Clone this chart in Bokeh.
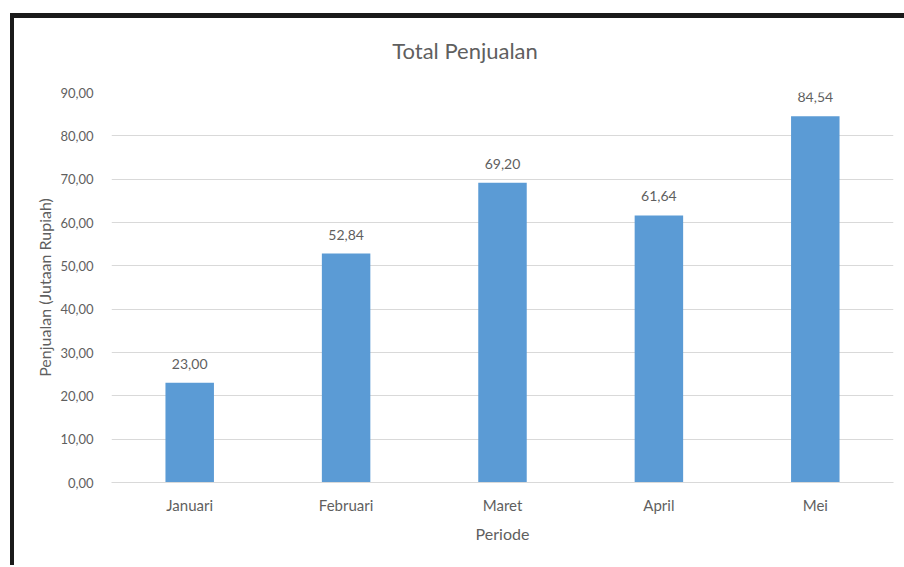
from bokeh.plotting import figure
from bokeh.models import ColumnDataSource, FixedTicker, CustomJSTickFormatter, FactorRange, Range1d, Div
from bokeh.layouts import column
from bokeh.embed import file_html
from bokeh.resources import INLINE
from bokeh.core.properties import value

# ---- data ----
months = ["Januari", "Februari", "Maret", "April", "Mei"]
sales = [23.00, 52.84, 69.20, 61.64, 84.54]
y_ticks = [0, 10, 20, 30, 40, 50, 60, 70, 80, 90]
title_text = "Total Penjualan"
x_title = "Periode"
y_title = "Penjualan (Jutaan Rupiah)"

labels = [f"{v:.2f}".replace(".", ",") for v in sales]
src = ColumnDataSource(dict(month=months, sales=sales, label=labels))

FONT = "Lato"
GREY = "#5f5f5f"
FRAME_H = 390
W = 886

title = Div(
    text=title_text, width=W, height=46,
    styles={
        "font-family": FONT, "font-size": "22px", "color": GREY,
        "text-align": "center", "padding-left": "6px", "padding-top": "15px",
        "line-height": "26px", "box-sizing": "border-box",
        "background-color": "white",
    },
)

p = figure(
    x_range=FactorRange(*months, range_padding=0),
    y_range=Range1d(0, 90),
    width=W, height=18 + FRAME_H + 83,
    output_backend="svg", toolbar_location=None,
    min_border_left=97, min_border_right=7,
    min_border_top=18, min_border_bottom=83,
)
p.outline_line_color = None
p.background_fill_color = "white"
p.border_fill_color = "white"

p.vbar(x="month", top="sales", width=0.31, source=src,
       fill_color="#5b9bd5", line_color=None)
p.text(x="month", y="sales", text="label", source=src,
       text_align="center", text_baseline="bottom", y_offset=-14,
       text_font=value(FONT), text_font_size="14px", text_color=GREY)

# grid
p.xgrid.grid_line_color = None
p.ygrid.grid_line_color = "#d9d9d9"
p.ygrid.grid_line_width = 1

# y axis
p.yaxis.ticker = FixedTicker(ticks=y_ticks)
p.yaxis.formatter = CustomJSTickFormatter(code="return tick.toFixed(2).replace('.', ',');")
p.yaxis.axis_line_color = None
p.yaxis.major_tick_line_color = None
p.yaxis.minor_tick_line_color = None
p.yaxis.major_tick_out = 0
p.yaxis.major_label_standoff = 18
p.yaxis.major_label_text_font = FONT
p.yaxis.major_label_text_font_size = "13px"
p.yaxis.major_label_text_color = GREY
p.yaxis.axis_label = y_title
p.yaxis.axis_label_text_font = FONT
p.yaxis.axis_label_text_font_size = "16px"
p.yaxis.axis_label_text_font_style = "normal"
p.yaxis.axis_label_text_color = GREY
p.yaxis.axis_label_standoff = 3

# x axis
p.xaxis.axis_line_color = "#d9d9d9"
p.xaxis.major_tick_line_color = None
p.xaxis.minor_tick_line_color = None
p.xaxis.major_tick_out = 0
p.xaxis.major_label_standoff = 13
p.xaxis.major_label_text_font = FONT
p.xaxis.major_label_text_font_size = "15px"
p.xaxis.major_label_text_color = GREY
p.xaxis.axis_label = x_title
p.xaxis.axis_label_text_font = FONT
p.xaxis.axis_label_text_font_size = "16px"
p.xaxis.axis_label_text_font_style = "normal"
p.xaxis.axis_label_text_color = GREY
p.xaxis.axis_label_standoff = 7

layout = column(title, p, spacing=0, styles={
    "border-left": "4px solid #1a1a1a",
    "border-top": "5px solid #1a1a1a",
    "margin-left": "10px",
    "margin-top": "13px",
})

open("out.html", "w").write(file_html(layout, INLINE))
